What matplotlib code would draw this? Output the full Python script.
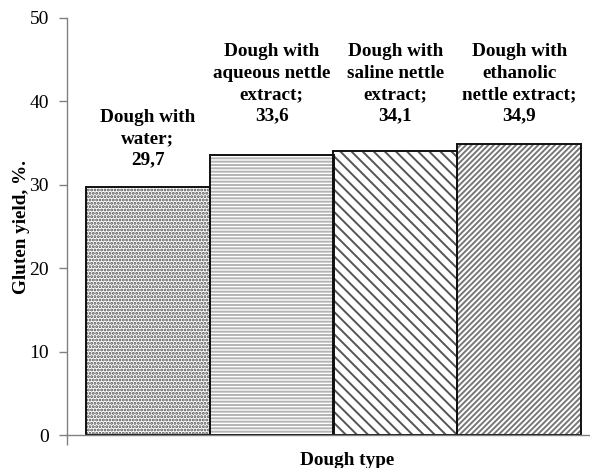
import matplotlib.pyplot as plt

# values
categories = ["Dough with\nwater;", "Dough with\naqueous nettle\nextract;",
              "Dough with\nsaline nettle\nextract;", "Dough with\nethanolic\nnettle extract;"]
values = [29.7, 33.6, 34.1, 34.9]
value_text = ["29,7", "33,6", "34,1", "34,9"]
label_y = [32.0, 37.3, 37.3, 37.3]
y_ticks = [0, 10, 20, 30, 40, 50]

hatches = [".....", "-----", "\\" * 3, "/" * 6]
hatch_colors = ["#4a4a4a", "#b4b4b4", "#555555", "#777777"]

plt.rcParams["font.family"] = ["Liberation Serif", "DejaVu Serif"]
plt.rcParams["hatch.linewidth"] = 1.4

fig = plt.figure(figsize=(5.9, 4.68), dpi=100)
ax = fig.add_axes([67 / 590, 33 / 468, 533 / 590, 417 / 468])

x = list(range(len(values)))
# hatched fill first, then a black outline on top
ax.bar(x, values, width=1.0, color="white", edgecolor=hatch_colors,
       hatch=hatches, linewidth=0)
ax.bar(x, values, width=1.0, fill=False, edgecolor="#111111", linewidth=1.4)

for xi, cat, val, ly in zip(x, categories, value_text, label_y):
    ax.text(xi, ly, cat + "\n" + val, ha="center", va="bottom",
            fontsize=13.8, fontweight="bold", linespacing=1.32)

x0 = -0.5 - 19 / 124
ax.set_xlim(x0, 3.5 + 19 / 124)
ax.set_ylim(0, 50)
ax.set_yticks(y_ticks)
ax.tick_params(axis="y", direction="out", length=6, width=1, color="#808080",
               labelsize=14, pad=7)
ax.set_xticks([x0])
ax.set_xticklabels([""])
ax.tick_params(axis="x", direction="out", length=7, width=1, color="#808080")

for s in ["top", "right"]:
    ax.spines[s].set_visible(False)
for s in ["left", "bottom"]:
    ax.spines[s].set_color("#808080")
    ax.spines[s].set_linewidth(1)

ax.set_ylabel("Gluten yield, %.", fontsize=13.8, fontweight="bold")
ax.yaxis.set_label_coords(-0.07, 0.5)
ax.set_xlabel("Dough type", fontsize=13.8, fontweight="bold")
ax.xaxis.set_label_coords((347 - 67) / 533, -0.04)

plt.savefig("out.png", dpi=100)
